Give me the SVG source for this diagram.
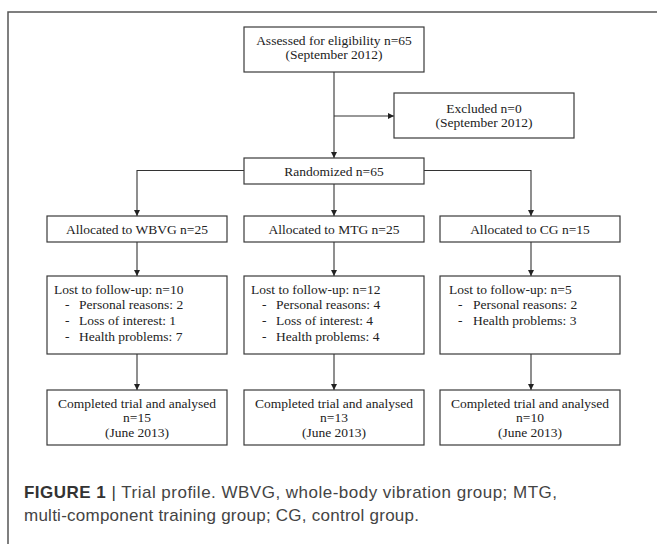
<svg xmlns="http://www.w3.org/2000/svg" width="657" height="544" viewBox="0 0 657 544">
<defs>
<marker id="ah" viewBox="0 0 10 10" refX="10" refY="5" markerWidth="6" markerHeight="6" markerUnits="userSpaceOnUse" orient="auto">
<path d="M0,0 L10,5 L0,10 Z" fill="#222"/>
</marker>
<style>
.box{fill:#fff;stroke:#3a3a3a;stroke-width:1.2}
.t{font-family:"Liberation Serif","Times New Roman",serif;font-size:13.5px;fill:#222}
.c{text-anchor:middle}
.ln{fill:none;stroke:#333;stroke-width:1.1}
.cap{font-family:"Liberation Sans",Arial,sans-serif;font-size:17px;fill:#444}
</style>
</defs>
<rect width="657" height="544" fill="#fff"/>
<path d="M8,546 V12 H660" fill="none" stroke="#555" stroke-width="1.5"/>

<g id="connectors">
<line class="ln" x1="334" y1="72" x2="334" y2="158" marker-end="url(#ah)"/>
<line class="ln" x1="334" y1="116" x2="394" y2="116" marker-end="url(#ah)"/>
<polyline class="ln" points="244,170.5 137,170.5 137,216" marker-end="url(#ah)"/>
<polyline class="ln" points="424,170.5 531,170.5 531,216" marker-end="url(#ah)"/>
<line class="ln" x1="334" y1="184" x2="334" y2="216" marker-end="url(#ah)"/>
<line class="ln" x1="137" y1="242" x2="137" y2="276" marker-end="url(#ah)"/>
<line class="ln" x1="334" y1="242" x2="334" y2="276" marker-end="url(#ah)"/>
<line class="ln" x1="531" y1="242" x2="531" y2="276" marker-end="url(#ah)"/>
<line class="ln" x1="137" y1="354" x2="137" y2="390" marker-end="url(#ah)"/>
<line class="ln" x1="334" y1="354" x2="334" y2="390" marker-end="url(#ah)"/>
<line class="ln" x1="531" y1="354" x2="531" y2="390" marker-end="url(#ah)"/>
</g>

<g id="assessed">
<rect class="box" x="244" y="27" width="180" height="45"/>
<text class="t c" x="334" y="44.5">Assessed for eligibility n=65</text>
<text class="t c" x="334" y="58.5">(September 2012)</text>
</g>

<g id="excluded">
<rect class="box" x="394" y="93" width="180" height="45"/>
<text class="t c" x="484" y="112.5">Excluded n=0</text>
<text class="t c" x="484" y="126.5">(September 2012)</text>
</g>

<g id="randomized">
<rect class="box" x="244" y="158" width="180" height="26"/>
<text class="t c" x="334" y="176">Randomized n=65</text>
</g>

<g id="alloc-wbvg">
<rect class="box" x="47" y="216" width="180" height="26"/>
<text class="t c" x="137" y="234">Allocated to WBVG n=25</text>
</g>
<g id="alloc-mtg">
<rect class="box" x="244" y="216" width="180" height="26"/>
<text class="t c" x="334" y="234">Allocated to MTG n=25</text>
</g>
<g id="alloc-cg">
<rect class="box" x="440" y="216" width="180" height="26"/>
<text class="t c" x="530" y="234">Allocated to CG n=15</text>
</g>

<g id="lost-wbvg">
<rect class="box" x="47" y="276" width="180" height="78"/>
<text class="t" x="54" y="293.5">Lost to follow-up: n=10</text>
<text class="t" x="65" y="309">-</text><text class="t" x="79" y="309">Personal reasons: 2</text>
<text class="t" x="65" y="324.5">-</text><text class="t" x="79" y="324.5">Loss of interest: 1</text>
<text class="t" x="65" y="340.5">-</text><text class="t" x="79" y="340.5">Health problems: 7</text>
</g>
<g id="lost-mtg">
<rect class="box" x="244" y="276" width="180" height="78"/>
<text class="t" x="251" y="293.5">Lost to follow-up: n=12</text>
<text class="t" x="262" y="309">-</text><text class="t" x="276" y="309">Personal reasons: 4</text>
<text class="t" x="262" y="324.5">-</text><text class="t" x="276" y="324.5">Loss of interest: 4</text>
<text class="t" x="262" y="340.5">-</text><text class="t" x="276" y="340.5">Health problems: 4</text>
</g>
<g id="lost-cg">
<rect class="box" x="440" y="276" width="180" height="78"/>
<text class="t" x="449" y="293.5">Lost to follow-up: n=5</text>
<text class="t" x="458" y="309">-</text><text class="t" x="473" y="309">Personal reasons: 2</text>
<text class="t" x="458" y="324.5">-</text><text class="t" x="473" y="324.5">Health problems: 3</text>
</g>

<g id="done-wbvg">
<rect class="box" x="47" y="390" width="180" height="55"/>
<text class="t c" x="137" y="407.5">Completed trial and analysed</text>
<text class="t c" x="137" y="421.5">n=15</text>
<text class="t c" x="137" y="436.5">(June 2013)</text>
</g>
<g id="done-mtg">
<rect class="box" x="244" y="390" width="180" height="55"/>
<text class="t c" x="334" y="407.5">Completed trial and analysed</text>
<text class="t c" x="334" y="421.5">n=13</text>
<text class="t c" x="334" y="436.5">(June 2013)</text>
</g>
<g id="done-cg">
<rect class="box" x="440" y="390" width="180" height="55"/>
<text class="t c" x="530" y="407.5">Completed trial and analysed</text>
<text class="t c" x="530" y="421.5">n=10</text>
<text class="t c" x="530" y="436.5">(June 2013)</text>
</g>

<g id="caption">
<text class="cap" x="24" y="498" textLength="533" lengthAdjust="spacing"><tspan font-weight="bold" fill="#333">FIGURE 1</tspan> <tspan fill="#333">|</tspan> Trial profile. WBVG, whole-body vibration group; MTG,</text>
<text class="cap" x="24" y="521" textLength="395" lengthAdjust="spacing">multi-component training group; CG, control group.</text>
</g>
</svg>
